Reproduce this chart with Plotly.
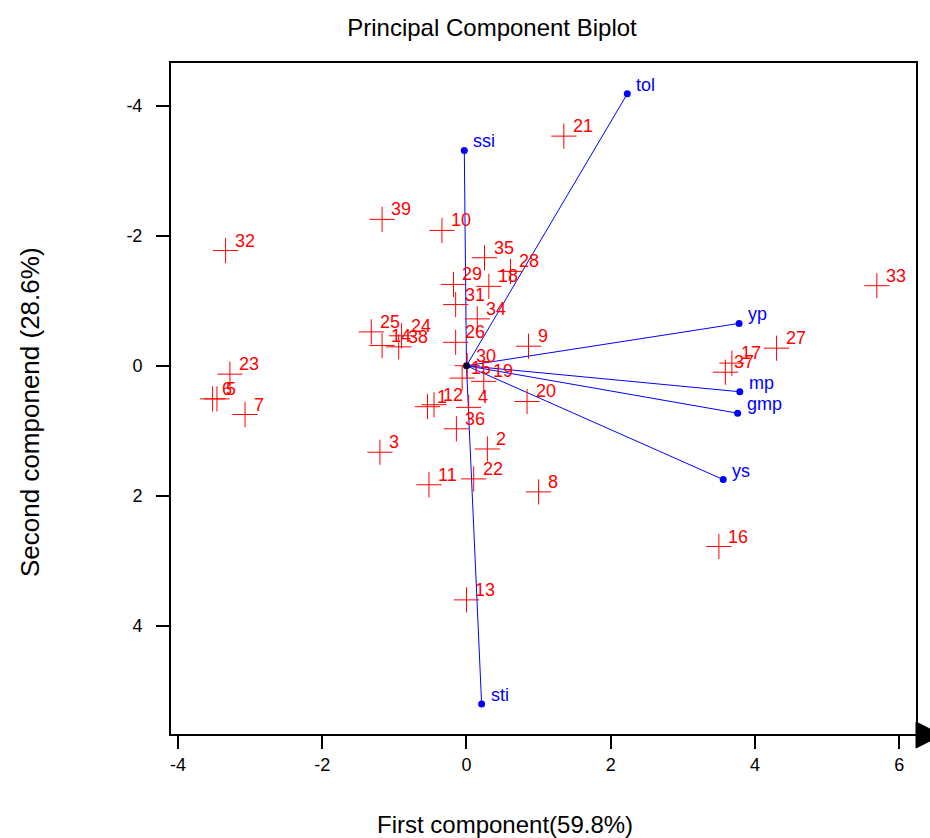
import plotly.graph_objects as go

# Observation scores (first and second principal components)
obs_labels = ["1", "2", "3", "4", "5", "6", "7", "8", "9", "10",
              "11", "12", "13", "14", "15", "16", "17", "18", "19", "20",
              "21", "22", "23", "24", "25", "26", "27", "28", "29", "30",
              "31", "32", "33", "34", "35", "36", "37", "38", "39"]
pc1 = [-0.54, 0.29, -1.20, 0.03, -3.46, -3.52, -3.07, 1.00, 0.86, -0.34,
       -0.52, -0.45, 0.00, -1.17, -0.06, 3.50, 3.68, 0.31, 0.24, 0.84,
       1.35, 0.10, -3.28, -0.90, -1.32, -0.15, 4.30, 0.61, -0.18, 0.01,
       -0.15, -3.34, 5.69, 0.15, 0.25, -0.14, 3.59, -0.94, -1.17]
pc2 = [0.63, 1.28, 1.33, 0.64, 0.51, 0.51, 0.75, 1.94, -0.30, -2.08,
       1.83, 0.60, 3.60, -0.31, 0.19, 2.78, -0.04, -1.22, 0.24, 0.55,
       -3.53, 1.74, 0.13, -0.46, -0.52, -0.36, -0.27, -1.45, -1.25, 0.00,
       -0.94, -1.77, -1.23, -0.72, -1.66, 0.97, 0.10, -0.29, -2.25]

# Variable loadings (arrows)
var_names = ["tol", "ssi", "yp", "mp", "gmp", "ys", "sti"]
var_x = [2.23, -0.03, 3.78, 3.79, 3.76, 3.56, 0.21]
var_y = [-4.18, -3.31, -0.65, 0.40, 0.73, 1.75, 5.20]

# Axis ticks
x_ticks = [-4, -2, 0, 2, 4, 6]
x_ticktext = ["-4", "-2", "0", "2", "4", "6"]
y_ticks = [-4, -2, 0, 2, 4]
y_ticktext = ["-4", "-2", "0", "2", "4"]

FONT = "Liberation Sans, Arial, sans-serif"
RED = "#ff0000"
BLUE = "#0000ff"

fig = go.Figure()

# Arrows from origin to each variable
for name, vx, vy in zip(var_names, var_x, var_y):
    fig.add_trace(go.Scatter(x=[0, vx], y=[0, vy], mode="lines",
                             line=dict(color=BLUE, width=1),
                             hoverinfo="skip", showlegend=False))

# Observation crosses
fig.add_trace(go.Scatter(x=pc1, y=pc2, mode="markers",
                         marker=dict(symbol="cross-thin", size=18,
                                     line=dict(color=RED, width=1)),
                         text=obs_labels, showlegend=False))

# Variable end dots
fig.add_trace(go.Scatter(x=var_x, y=var_y, mode="markers",
                         marker=dict(color=BLUE, size=7),
                         text=var_names, showlegend=False))

# Origin dot
fig.add_trace(go.Scatter(x=[0], y=[0], mode="markers",
                         marker=dict(color="#000033", size=7),
                         hoverinfo="skip", showlegend=False))

annotations = []
for lab, x, y in zip(obs_labels, pc1, pc2):
    annotations.append(dict(x=x, y=y, text=lab, showarrow=False,
                            xanchor="left", yanchor="middle",
                            xshift=7, yshift=10,
                            font=dict(family=FONT, size=18, color=RED)))
for lab, x, y in zip(var_names, var_x, var_y):
    annotations.append(dict(x=x, y=y, text=lab, showarrow=False,
                            xanchor="left", yanchor="middle",
                            xshift=7, yshift=9,
                            font=dict(family=FONT, size=18, color=BLUE)))

# Axis titles
annotations.append(dict(xref="paper", yref="paper", x=(505 - 171) / 745, y=(734 - 824) / 671,
                        text="First component(59.8%)", showarrow=False,
                        xanchor="center", yanchor="middle",
                        font=dict(family=FONT, size=24, color="black")))
annotations.append(dict(xref="paper", yref="paper", x=(30 - 171) / 745, y=(734 - 412) / 671,
                        text="Second componend (28.6%)", showarrow=False,
                        textangle=-90, xanchor="center", yanchor="middle",
                        font=dict(family=FONT, size=26, color="black")))

L, R, T, B = 171, 14, 63, 104
W, H = 930, 838
pw, ph = W - L - R, H - T - B

def px_to_paper(px, py):
    return (px - L) / pw, (H - B - py) / ph

p1 = px_to_paper(916, 722)
p2 = px_to_paper(942, 735)
p3 = px_to_paper(916, 748)
arrow_path = "M {} {} L {} {} L {} {} Z".format(p1[0], p1[1], p2[0], p2[1], p3[0], p3[1])

fig.update_layout(
    width=W, height=H,
    margin=dict(l=L, r=R, t=T, b=B),
    paper_bgcolor="white", plot_bgcolor="white",
    hovermode=False,
    title=dict(text="Principal Component Biplot", x=492 / W, xanchor="center",
               y=1 - 28 / H, yanchor="middle", xref="container", yref="container",
               font=dict(family=FONT, size=24, color="black")),
    annotations=annotations,
    shapes=[dict(type="path", xref="paper", yref="paper", path=arrow_path,
                 fillcolor="black", line=dict(color="black", width=1))],
    xaxis=dict(range=[-4.097, 6.233], tickvals=x_ticks, ticktext=x_ticktext,
               showgrid=False, zeroline=False, showline=True, mirror=True,
               linecolor="black", linewidth=2, ticks="outside", ticklen=13,
               tickwidth=2, tickcolor="black",
               tickfont=dict(family=FONT, size=18, color="black")),
    yaxis=dict(range=[5.662, -4.654], tickvals=y_ticks, ticktext=y_ticktext,
               showgrid=False, zeroline=False, showline=True, mirror=True,
               linecolor="black", linewidth=2, ticks="outside", ticklen=13,
               tickwidth=2, tickcolor="black", ticklabelstandoff=10,
               tickfont=dict(family=FONT, size=18, color="black")),
)

fig.write_html("out.html", config={"displayModeBar": False},
               post_script="document.body.style.margin='0px';document.body.style.overflow='hidden';")
